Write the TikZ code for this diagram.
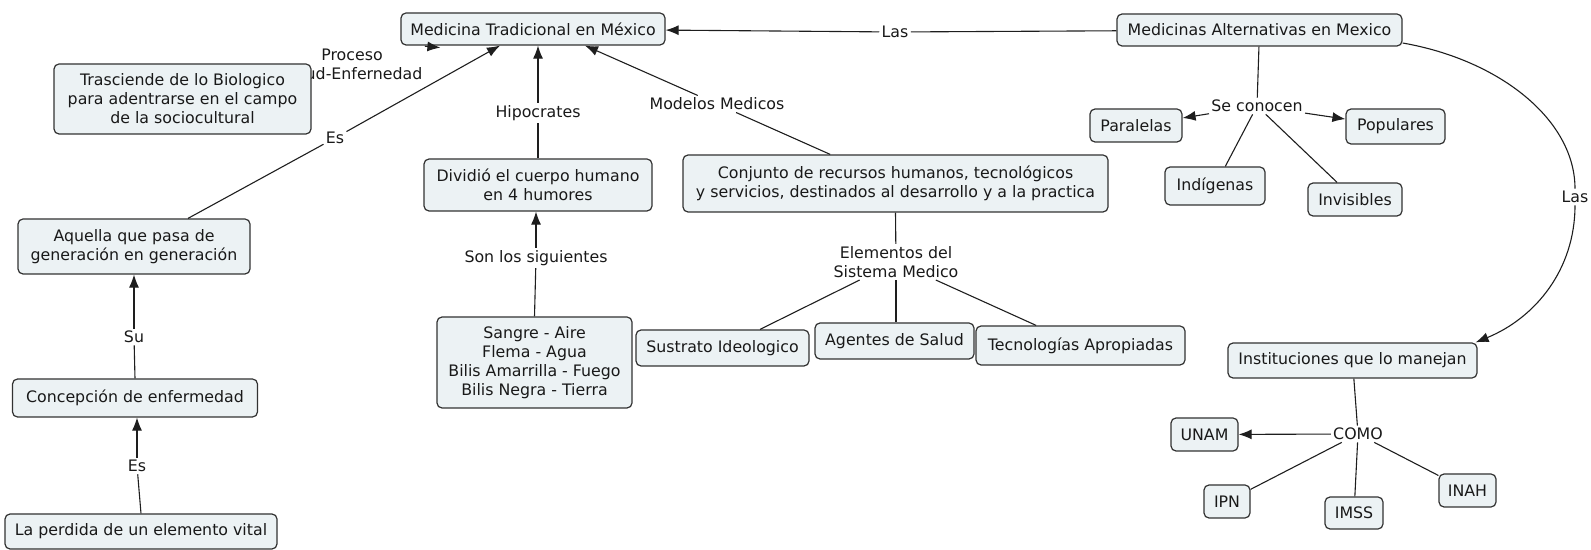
\documentclass[tikz,border=0pt]{standalone}
\usepackage{fontspec}
\setmainfont{DejaVu Sans}
\usetikzlibrary{arrows.meta,calc}
\definecolor{boxfill}{RGB}{236,242,244}
\definecolor{boxline}{RGB}{50,50,50}
\definecolor{linkc}{RGB}{30,30,30}
\begin{document}
\begin{tikzpicture}[x=0.5pt,y=-0.5pt,
  font=\fontsize{7.9}{9.5}\selectfont,
  box/.style={draw=boxline, fill=boxfill, rounded corners=2.5pt, line width=0.6pt, align=center, inner sep=1pt, text=black!90},
  sz/.style 2 args={minimum width=#1*0.5pt, minimum height=#2*0.5pt},
  lab/.style={align=center, inner sep=1pt, text=black!90},
  link/.style={draw=linkc, line width=0.55pt},
  arr/.style={link, -{Latex[length=6.5pt,width=5pt]}}]
\useasboundingbox (0,0) rectangle (1591,550);

% label partly hidden behind the box
\node[lab] (lproc) at (352,64) {Proceso\\Salud-Enfernedad};

% concept boxes
\node[box, sz={264}{32}] (mt) at (533,29) {Medicina Tradicional en México};
\node[box, sz={257}{70}] (tr) at (182.5,99) {Trasciende de lo Biologico\\para adentrarse en el campo\\de la sociocultural};
\node[box, sz={232}{55}] (aq) at (134,246.5) {Aquella que pasa de\\generación en generación};
\node[box, sz={245}{38}] (co) at (135,398) {Concepción de enfermedad};
\node[box, sz={272}{35}] (lp) at (141,531.5) {La perdida de un elemento vital};
\node[box, sz={228}{52}] (dv) at (538,185) {Dividió el cuerpo humano\\en 4 humores};
\node[box, sz={195}{91}] (sa) at (534.5,362.5) {Sangre - Aire\\Flema - Agua\\Bilis Amarrilla - Fuego\\Bilis Negra - Tierra};
\node[box, sz={425}{57}] (cj) at (895.5,183.5) {Conjunto de recursos humanos, tecnológicos\\y servicios, destinados al desarrollo y a la practica};
\node[box, sz={173}{36}] (su) at (722.5,348) {Sustrato Ideologico};
\node[box, sz={159}{36}] (ag) at (894.5,341) {Agentes de Salud};
\node[box, sz={209}{39}] (te) at (1080.5,345.5) {Tecnologías Apropiadas};
\node[box, sz={285}{32}] (ma) at (1259.5,30) {Medicinas Alternativas en Mexico};
\node[box, sz={92}{33}] (pa) at (1136,125.5) {Paralelas};
\node[box, sz={99}{35}] (po) at (1395.5,126.5) {Populares};
\node[box, sz={100}{38}] (ind) at (1215,186) {Indígenas};
\node[box, sz={94}{33}] (iv) at (1355,199.5) {Invisibles};
\node[box, sz={249}{35}] (is) at (1352.5,360.5) {Instituciones que lo manejan};
\node[box, sz={67}{33}] (un) at (1204.5,434.5) {UNAM};
\node[box, sz={46}{33}] (ip) at (1227,501.5) {IPN};
\node[box, sz={58}{32}] (im) at (1354,513) {IMSS};
\node[box, sz={57}{33}] (ih) at (1467.5,490.5) {INAH};

% linking phrases
\node[lab] (llas) at (895,32) {Las};
\node[lab] (lmm) at (717,104) {Modelos Medicos};
\node[lab] (lhip) at (538,113) {Hipocrates};
\node[lab] (les1) at (335,138) {Es};
\node[lab] (les2) at (137,466) {Es};
\node[lab] (lsu) at (134,337) {Su};
\node[lab] (lson) at (536,258) {Son los siguientes};
\node[lab] (lel) at (896,262) {Elementos del\\Sistema Medico};
\node[lab] (lsc) at (1257,106) {Se conocen};
\node[lab] (llas2) at (1575,197) {Las};
\node[lab] (lcomo) at (1358,434) {COMO};

% connectors
\draw[arr] (lproc.north east) -- ($(mt.south west)+(40,2)$);
\draw[link] (ma) -- (llas);
\draw[arr] (llas) -- (mt);
\draw[link] ($(aq.north)+(54,0)$) -- (les1);
\draw[arr] (les1) -- ($(mt.south)+(-33,0)$);
\draw[link] (dv.north) -- (lhip);
\draw[arr] (lhip) -- (lhip |- mt.south);
\draw[link] (cj) -- (lmm);
\draw[arr] (lmm) -- ($(mt.south)+(52,0)$);
\draw[link] (sa.north) -- (lson);
\draw[arr] (lson) -- (lson |- dv.south);
\draw[link] (co.north) -- (lsu);
\draw[arr] (lsu) -- (lsu |- aq.south);
\draw[link] (lp.north) -- (les2);
\draw[arr] (les2) -- (les2 |- co.south);
\draw[link] (cj.south) -- (lel);
\draw[link] (lel) -- (su);
\draw[link] (lel) -- (lel |- ag.north);
\draw[link] (lel) -- (te);
\draw[link] (ma) -- (lsc);
\draw[arr] (lsc) -- (pa);
\draw[arr] (lsc) -- (po);
\draw[link] (lsc) -- (ind);
\draw[link] (lsc) -- (iv);
\draw[link] ($(ma.east)+(0,13)$) .. controls (1500,60) and (1575,120) .. (llas2);
\draw[arr] (llas2) .. controls (1575,270) and (1535,318) .. ($(is.north east)+(-2,0)$);
\draw[link] (is) -- (lcomo);
\draw[arr] (lcomo) -- (un);
\draw[link] (lcomo) -- (ip);
\draw[link] (lcomo) -- (im);
\draw[link] (lcomo) -- (ih);
\end{tikzpicture}
\end{document}
